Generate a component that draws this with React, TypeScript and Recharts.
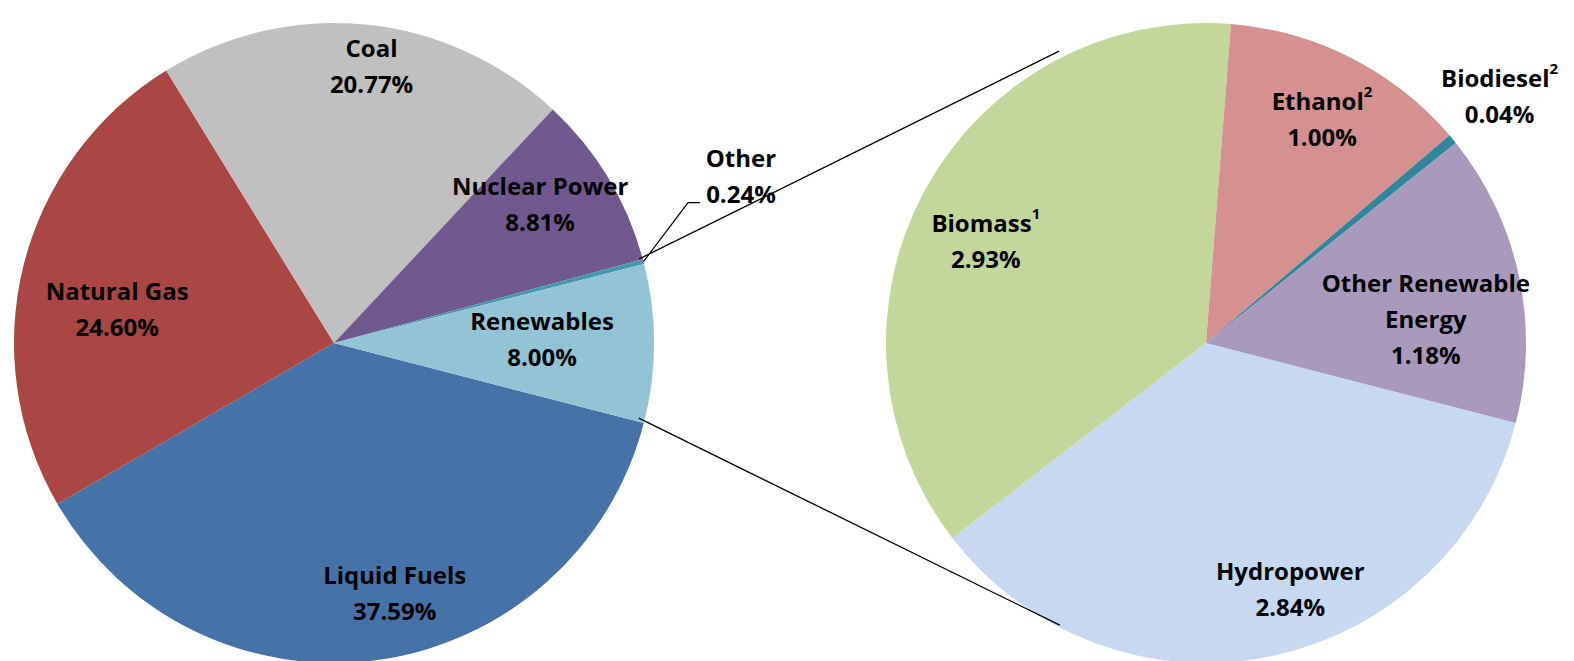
import React from 'react';
import { PieChart, Pie, Cell } from 'recharts';

// world energy consumption by source, renewables broken out on the right
const energyNames = ['Liquid Fuels', 'Natural Gas', 'Coal', 'Nuclear Power', 'Other', 'Renewables'];
const energyShares = [37.59, 24.6, 20.77, 8.81, 0.24, 8.0];
const energyColors = ['#4572A7', '#AA4643', '#C0C0C0', '#71588F', '#4198AF', '#93C4D5'];

const renewableNames = ['Hydropower', 'Biomass', 'Ethanol', 'Biodiesel', 'Other Renewable Energy'];
const renewableShares = [2.84, 2.93, 1.0, 0.04, 1.18];
const renewableNotes = ['', '1', '2', '2', ''];
const renewableColors = ['#C6D9F0', '#C4D79B', '#D4918F', '#31859C', '#A99ABD'];

const W = 1574;
const H = 661;
const R = 320;
const LEFT = { cx: 329, cy: 338 };
const RIGHT = { cx: 1201, cy: 338 };
const START = -14.5;
const LH = 36;
const LIFT = 5;
const FONT = '"Open Sans", sans-serif';
const RAD = Math.PI / 180;

const energyData = energyNames.map((name, i) => ({ name, value: energyShares[i] }));
const renewableData = renewableNames.map((name, i) => ({
  name,
  value: renewableShares[i],
  note: renewableNotes[i],
}));

// where each label sits: fraction of the radius and a nudge of the slice's mid angle
const labelPlace: Record<string, { k: number; da: number; lines?: string[]; leader?: boolean }> = {
  'Liquid Fuels': { k: 0.816, da: 5.6 },
  'Natural Gas': { k: 0.684, da: 6.3 },
  Coal: { k: 0.86, da: -2.1 },
  'Nuclear Power': { k: 0.77, da: 2.2 },
  Other: { k: 1.37, da: 7.1, leader: true },
  Renewables: { k: 0.65, da: 0 },
  Hydropower: { k: 0.825, da: 7.1 },
  Biomass: { k: 0.753, da: 4.5 },
  Ethanol: { k: 0.777, da: -0.8 },
  Biodiesel: { k: 1.19, da: 0 },
  'Other Renewable Energy': { k: 0.69, da: -6.8, lines: ['Other Renewable', 'Energy'] },
};

const polar = (cx: number, cy: number, r: number, deg: number) => ({
  x: cx + r * Math.cos(deg * RAD),
  y: cy - r * Math.sin(deg * RAD),
});

const renderLabel = (props: any) => {
  const { cx, cy, midAngle, outerRadius, name, value, payload } = props;
  const place = labelPlace[name];
  if (!place) return null;
  const p = polar(cx, cy, outerRadius * place.k, midAngle + place.da);
  const lines = place.lines ?? [name];
  const top = p.y - (lines.length * LH) / 2 - LIFT;
  const note = payload?.note;
  let leader = null;
  if (place.leader) {
    const a = polar(cx, cy, outerRadius, midAngle);
    const b = polar(cx, cy, outerRadius * 1.19, midAngle + 6.9);
    leader = (
      <polyline
        points={`${a.x},${a.y} ${b.x},${b.y} ${b.x + 12},${b.y}`}
        fill="none"
        stroke="#000"
        strokeWidth={1.2}
      />
    );
  }
  return (
    <g>
      {leader}
      <text
        x={p.x}
        y={top}
        textAnchor="middle"
        dominantBaseline="central"
        fontFamily={FONT}
        fontWeight="bold"
        fontSize={24}
        fill="#000"
      >
        {lines.map((line, i) => (
          <tspan key={i} x={p.x} y={top + i * LH}>
            {line}
            {i === lines.length - 1 && note ? (
              <tspan fontSize={15} dy={-9}>
                {note}
              </tspan>
            ) : null}
          </tspan>
        ))}
        <tspan x={p.x} y={top + lines.length * LH}>
          {value.toFixed(2)}%
        </tspan>
      </text>
    </g>
  );
};

// tangent point on the right pie seen from a point p (side = +1 upper, -1 lower)
const tangent = (p: { x: number; y: number }, side: number) => {
  const dx = p.x - RIGHT.cx;
  const dy = RIGHT.cy - p.y;
  const d = Math.hypot(dx, dy);
  const phi = Math.atan2(dy, dx) / RAD;
  const t = Math.acos(R / d) / RAD;
  return polar(RIGHT.cx, RIGHT.cy, R, side > 0 ? phi - t : phi + t);
};

// the two lines joining the renewables slice to the breakout pie
const Connectors = () => {
  const total = energyShares.reduce((s, v) => s + v, 0);
  const before = energyShares.slice(0, -1).reduce((s, v) => s + v, 0);
  const topAngle = START - (360 * before) / total;
  const a1 = polar(LEFT.cx, LEFT.cy, R, topAngle);
  const a2 = polar(LEFT.cx, LEFT.cy, R, START);
  const b1 = tangent(a1, 1);
  const b2 = tangent(a2, -1);
  return (
    <g>
      <line x1={a1.x} y1={a1.y} x2={b1.x} y2={b1.y} stroke="#000" strokeWidth={1.3} />
      <line x1={a2.x} y1={a2.y} x2={b2.x} y2={b2.y} stroke="#000" strokeWidth={1.3} />
    </g>
  );
};

// right pie labels are drawn after both pies' sectors, so the connectors go with them
const renderRightLabel = (props: any) => (
  <g>
    {props.index === 0 ? <Connectors /> : null}
    {renderLabel(props)}
  </g>
);

const App: React.FC = () => (
  <div style={{ width: W, height: H }}>
    <style>{'body{margin:0;background:#fff}'}</style>
    <PieChart width={W} height={H}>
      <Pie
        data={energyData}
        dataKey="value"
        nameKey="name"
        cx={LEFT.cx}
        cy={LEFT.cy}
        outerRadius={R}
        startAngle={START}
        endAngle={START - 360}
        stroke="none"
        label={renderLabel}
        labelLine={false}
        isAnimationActive={false}
      >
        {energyData.map((d, i) => (
          <Cell key={d.name} fill={energyColors[i]} />
        ))}
      </Pie>
      <Pie
        data={renewableData}
        dataKey="value"
        nameKey="name"
        cx={RIGHT.cx}
        cy={RIGHT.cy}
        outerRadius={R}
        startAngle={START}
        endAngle={START - 360}
        stroke="none"
        label={renderRightLabel}
        labelLine={false}
        isAnimationActive={false}
      >
        {renewableData.map((d, i) => (
          <Cell key={d.name} fill={renewableColors[i]} />
        ))}
      </Pie>
    </PieChart>
  </div>
);

export default App;
